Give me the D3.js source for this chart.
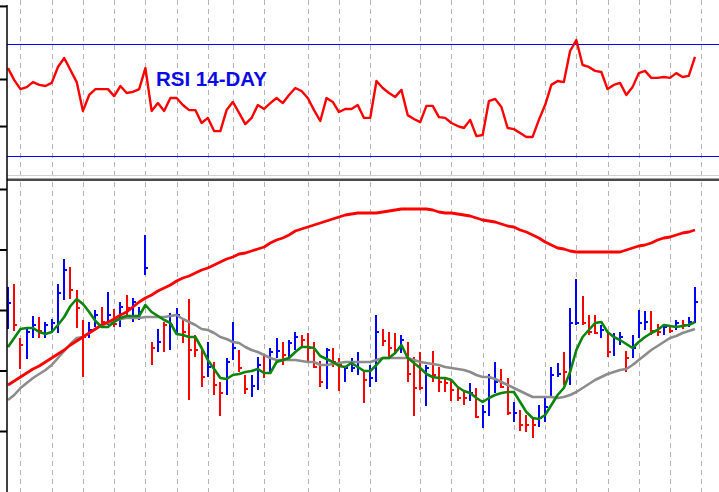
<!DOCTYPE html>
<html>
<head>
<meta charset="utf-8">
<script src="https://cdn.jsdelivr.net/npm/d3@7/dist/d3.min.js"></script>
<style>
  body { margin: 0; background: #fff; }
  svg { display: block; }
</style>
</head>
<body>
<svg id="chart" width="719" height="492"></svg>
<script>
// bar index of each vertical date gridline
const gridDays = [2, 7, 12, 17, 22, 27, 32, 36, 41, 48, 53, 58, 66, 71, 76, 81, 86, 91, 96, 101, 106, 111];

const rsi = [61.4, 57.1, 53.9, 54.6, 56.4, 55.4, 55.0, 56.1, 61.8, 65.0,
  60.7, 56.4, 46.1, 51.8, 53.9, 53.9, 53.9, 51.4, 55.0, 52.5,
  52.9, 53.9, 61.4, 46.1, 48.9, 46.1, 50.7, 50.7, 48.2, 46.4,
  46.4, 41.8, 43.6, 38.9, 38.9, 46.4, 49.3, 45.4, 41.4, 43.6,
  48.2, 46.8, 48.9, 50.7, 48.9, 51.8, 54.3, 53.2, 50.7, 46.4,
  42.5, 50.7, 49.3, 45.7, 46.8, 46.8, 48.2, 43.6, 43.6, 56.8,
  54.3, 52.5, 51.1, 53.6, 44.6, 43.2, 42.1, 47.9, 47.9, 43.9,
  43.6, 41.8, 40.7, 40.0, 42.9, 37.1, 37.5, 49.6, 50.4, 47.5,
  40.0, 39.6, 38.2, 36.8, 36.8, 42.9, 48.2, 55.4, 56.8, 56.4,
  67.5, 71.4, 62.5, 61.8, 60.4, 60.0, 53.9, 55.4, 56.1, 51.8,
  54.6, 59.6, 60.4, 57.9, 57.9, 58.2, 57.9, 59.6, 58.2, 58.6,
  65.4];
const rsiLevels = [70, 30];
const rsiTicks = [83.6, 57.5, 40.7];

const high = [394, 397, 343, 353, 365, 364, 359, 362, 397, 422,
  414, 391, 361, 359, 371, 374, 389, 372, 379, 386,
  383, 374, 446, 339, 352, 359, 368, 373, 361, 382,
  346, 333, 339, 319, 299, 323, 359, 331, 306, 306,
  324, 325, 333, 343, 339, 341, 349, 346, 348, 339,
  320, 333, 333, 323, 314, 323, 329, 309, 316, 366,
  352, 349, 348, 346, 339, 324, 329, 316, 330, 314,
  302, 302, 293, 289, 298, 293, 276, 307, 319, 312,
  303, 279, 271, 266, 263, 276, 283, 314, 318, 329,
  373, 402, 385, 366, 366, 356, 349, 348, 349, 330,
  346, 371, 370, 370, 357, 356, 356, 361, 361, 364,
  394];
const low = [352, 350, 312, 322, 343, 343, 343, 348, 348, 381,
  382, 353, 304, 343, 354, 356, 356, 354, 354, 366,
  359, 361, 406, 316, 329, 329, 331, 346, 338, 281,
  324, 294, 304, 286, 265, 286, 321, 309, 287, 284,
  291, 303, 309, 323, 316, 324, 331, 333, 320, 313,
  294, 292, 314, 290, 299, 309, 306, 278, 294, 299,
  335, 324, 328, 328, 299, 265, 291, 275, 299, 289,
  289, 280, 280, 276, 280, 263, 253, 265, 288, 293,
  266, 259, 250, 249, 243, 254, 259, 283, 304, 296,
  296, 356, 356, 346, 347, 343, 324, 325, 336, 309,
  323, 343, 351, 346, 345, 346, 348, 351, 352, 354,
  358];
const close = [378, 356, 336, 349, 356, 350, 356, 358, 388, 411,
  391, 373, 344, 351, 366, 359, 366, 357, 374, 373,
  379, 369, 413, 333, 339, 356, 356, 366, 349, 331,
  331, 304, 314, 296, 288, 319, 333, 313, 292, 295,
  316, 308, 329, 330, 326, 338, 344, 341, 333, 314,
  299, 331, 319, 316, 313, 313, 319, 301, 303, 349,
  340, 333, 331, 341, 307, 293, 293, 313, 306, 299,
  298, 291, 283, 283, 288, 264, 269, 303, 299, 294,
  268, 268, 256, 256, 256, 263, 274, 306, 307, 309,
  358, 358, 358, 349, 348, 351, 329, 343, 344, 323,
  333, 358, 359, 350, 349, 354, 350, 358, 356, 359,
  379];
// U = up bar, D = down bar
const direction = ("UDDUUDUUUU" + "DDDUUDUDUD" + "UUUDUDUUDD" + "DDUDDUUDDU" + "UDUUDUUDDD" +
  "DUDDUUUDUU" + "DDDUDDDUDD" + "DDDDUDUUUD" + "DUDDDUUUUD" + "UUDDDUDUUD" + "UUUDDUDUDU" + "U").split("");

const maShort = [334, 343, 352, 353, 353, 349, 347, 349, 356, 364,
  375, 382, 377, 369, 360, 354, 354, 359, 363, 365,
  365, 365, 376, 369, 365, 361, 358, 347, 346, 344,
  344, 333, 321, 312, 303, 302, 306, 307, 309, 310,
  312, 308, 308, 319, 321, 323, 329, 334, 334, 333,
  325, 322, 319, 315, 314, 318, 314, 310, 310, 316,
  323, 323, 328, 336, 323, 318, 313, 307, 304, 303,
  303, 301, 294, 290, 288, 283, 279, 283, 286, 288,
  289, 289, 279, 269, 263, 262, 266, 276, 286, 293,
  309, 331, 344, 351, 358, 359, 349, 344, 341, 337,
  333, 339, 344, 348, 351, 356, 355, 354, 355, 356,
  359];
const maMid = [281, 286, 293, 298, 303, 307, 311, 316, 323, 330,
  337, 343, 344, 348, 352, 356, 358, 360, 362, 363,
  363, 363, 364, 364, 364, 364, 365, 366, 362, 359,
  356, 352, 351, 348, 344, 342, 339, 338, 334, 331,
  329, 326, 323, 321, 321, 321, 321, 320, 319, 319,
  316, 316, 317, 318, 319, 319, 319, 319, 319, 321,
  323, 323, 323, 323, 323, 321, 319, 318, 317, 316,
  314, 313, 312, 311, 309, 306, 304, 304, 302, 299,
  296, 293, 290, 287, 284, 284, 284, 284, 283, 284,
  286, 289, 293, 297, 301, 304, 307, 309, 311, 312,
  316, 321, 326, 331, 335, 339, 343, 345, 348, 350,
  352];
const maLong = [296, 300, 304, 308, 312, 315, 319, 323, 327, 331,
  336, 340, 344, 348, 352, 356, 359, 362, 366, 369,
  374, 379, 383, 386, 390, 393, 396, 400, 403, 405,
  408, 411, 413, 416, 419, 422, 424, 427, 428, 430,
  432, 434, 438, 441, 443, 446, 450, 452, 454, 456,
  458, 460, 462, 464, 466, 467, 468, 468, 468, 468,
  469, 470, 471, 472, 472, 472, 472, 472, 471, 469,
  468, 468, 467, 466, 465, 463, 461, 460, 459, 457,
  455, 454, 451, 449, 446, 443, 439, 436, 433, 432,
  430, 429, 429, 429, 429, 429, 429, 429, 429, 431,
  433, 435, 436, 438, 441, 443, 444, 446, 448, 449,
  451];
const priceTicks = [492, 431.5, 371, 310.5, 250];

const W = 719, H = 492;
const axisX = 7;
const rsiPanel = { y0: 0, y1: 175 };
const pricePanel = { y0: 182, y1: 492 };

const svg = d3.select("#chart");
svg.append("rect").attr("width", W).attr("height", H).attr("fill", "#fff");

const x = d3.scaleLinear().domain([0, rsi.length - 1]).range([8, 695]);
const yRsi = d3.scaleLinear().domain([30, 70]).range([156, 44]);
const yPrice = d3.scaleLinear().domain([250, 492]).range([431, 189]);

// dashed date gridlines in both panels
[rsiPanel, pricePanel].forEach(p => {
  svg.append("g").selectAll("line").data(gridDays).enter().append("line")
    .attr("x1", d => Math.round(x(d)) + 0.5).attr("x2", d => Math.round(x(d)) + 0.5)
    .attr("y1", p.y0).attr("y2", p.y1)
    .attr("stroke", "#b4b4b4").attr("stroke-width", 1)
    .attr("stroke-dasharray", "5,4");
});

// panel separator
svg.append("line").attr("x1", axisX).attr("x2", W).attr("y1", 175.5).attr("y2", 175.5)
  .attr("stroke", "#d0d0d0").attr("stroke-width", 1);
svg.append("rect").attr("x", axisX).attr("y", 178.5).attr("width", W - axisX).attr("height", 2.5)
  .attr("fill", "#4a4a4a");

// RSI panel
svg.append("g").selectAll("line").data(rsiLevels).enter().append("line")
  .attr("x1", axisX).attr("x2", W)
  .attr("y1", d => Math.round(yRsi(d)) + 0.5).attr("y2", d => Math.round(yRsi(d)) + 0.5)
  .attr("stroke", "#0000f0").attr("stroke-width", 1.2);

svg.append("path").datum(rsi)
  .attr("fill", "none").attr("stroke", "#ff0000").attr("stroke-width", 2.4)
  .attr("stroke-linejoin", "round")
  .attr("d", d3.line().x((d, i) => x(i)).y(d => yRsi(d)));

svg.append("text").attr("x", 156).attr("y", 86)
  .attr("font-family", "'Liberation Sans', Arial, sans-serif")
  .attr("font-weight", "bold").attr("font-size", 20.5)
  .attr("fill", "#0a0ae6")
  .text("RSI 14-DAY");

// price bars
const bars = svg.append("g");
d3.range(close.length).forEach(i => {
  const col = direction[i] === "U" ? "#0000ff" : "#ff0000";
  const cx = Math.round(x(i));
  bars.append("line")
    .attr("x1", cx).attr("x2", cx)
    .attr("y1", yPrice(high[i])).attr("y2", yPrice(low[i]))
    .attr("stroke", col).attr("stroke-width", 2);
  bars.append("line")
    .attr("x1", cx + 1).attr("x2", cx + 3)
    .attr("y1", yPrice(close[i])).attr("y2", yPrice(close[i]))
    .attr("stroke", col).attr("stroke-width", 2);
});

// moving averages
const maLine = d3.line().x((d, i) => x(i)).y(d => yPrice(d));
[[maMid, "#8c8c8c", 2.6], [maLong, "#ff0000", 2.8], [maShort, "#0a850a", 2.6]].forEach(([s, c, w]) => {
  svg.append("path").datum(s)
    .attr("fill", "none").attr("stroke", c).attr("stroke-width", w)
    .attr("stroke-linejoin", "round")
    .attr("d", maLine);
});

// left axis
svg.append("line").attr("x1", axisX).attr("x2", axisX).attr("y1", 5).attr("y2", H)
  .attr("stroke", "#000").attr("stroke-width", 1.5);

const rsiAxis = svg.append("g").attr("transform", `translate(${axisX},0)`)
  .call(d3.axisLeft(yRsi).tickValues(rsiTicks).tickSize(7).tickFormat(""));
const priceAxis = svg.append("g").attr("transform", `translate(${axisX},0)`)
  .call(d3.axisLeft(yPrice).tickValues(priceTicks).tickSize(7).tickFormat(""));
[rsiAxis, priceAxis].forEach(a => {
  a.select(".domain").remove();
  a.selectAll(".tick line").attr("stroke", "#000").attr("stroke-width", 2);
});
</script>
</body>
</html>
